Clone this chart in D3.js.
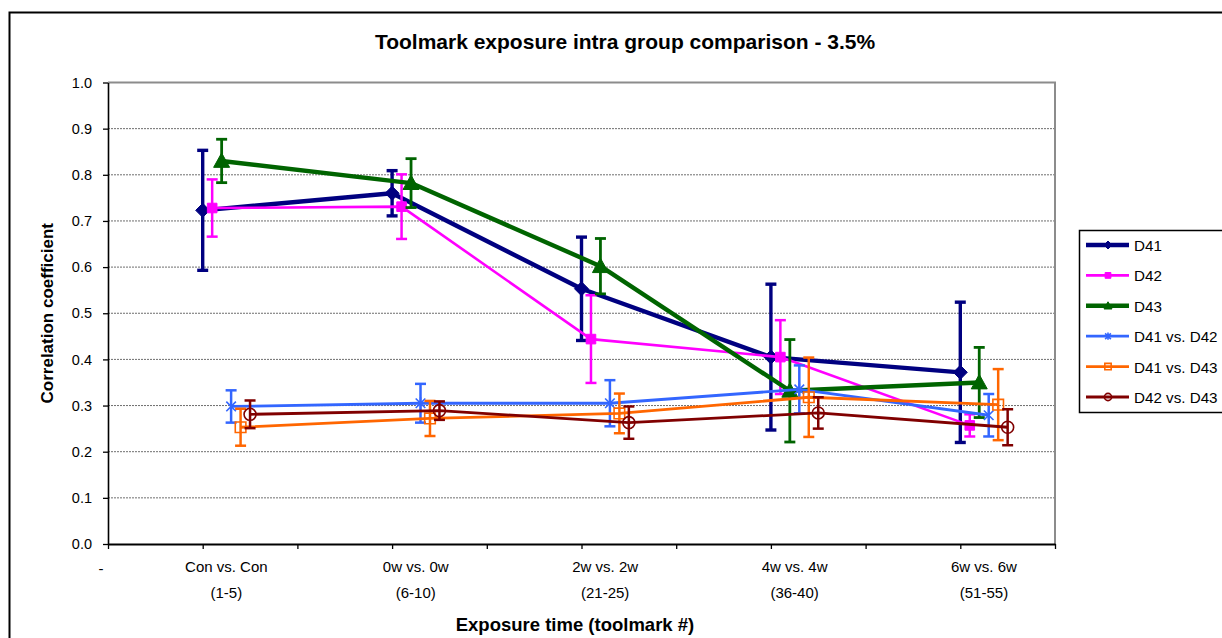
<!DOCTYPE html>
<html>
<head>
<meta charset="utf-8">
<script src="https://cdn.jsdelivr.net/npm/d3@7"></script>
<style>
  body { margin: 0; background: #fff; }
  svg { display: block; font-family: Arial, "Liberation Sans", sans-serif; }
</style>
</head>
<body>
<svg id="chart" width="1222" height="638"></svg>
<script>
// ---- data ----
const groupNames  = ["Con vs. Con", "0w vs. 0w", "2w vs. 2w", "4w vs. 4w", "6w vs. 6w"];
const groupRanges = ["(1-5)", "(6-10)", "(21-25)", "(36-40)", "(51-55)"];
const groupSlots  = [1, 3, 5, 7, 9];          // slot of each exposure group on the x axis
const slotTicks   = [0, 1, 2, 3, 4, 5, 6, 7, 8, 9, 10];
const yTicks      = [0, 0.1, 0.2, 0.3, 0.4, 0.5, 0.6, 0.7, 0.8, 0.9, 1.0];

const seriesNames = ["D41", "D42", "D43", "D41 vs. D42", "D41 vs. D43", "D42 vs. D43"];

const d41       = [0.723, 0.760, 0.553, 0.405, 0.372];
const d41Err    = [0.130, 0.049, 0.112, 0.158, 0.152];
const d42       = [0.728, 0.731, 0.444, 0.405, 0.257];
const d42Err    = [0.062, 0.070, 0.095, 0.080, 0.024];
const d43       = [0.830, 0.782, 0.602, 0.332, 0.350];
const d43Err    = [0.047, 0.053, 0.060, 0.111, 0.076];
const d41v42    = [0.298, 0.305, 0.305, 0.335, 0.279];
const d41v42Err = [0.035, 0.042, 0.050, 0.052, 0.046];
const d41v43    = [0.253, 0.272, 0.283, 0.318, 0.302];
const d41v43Err = [0.040, 0.038, 0.043, 0.086, 0.077];
const d42v43    = [0.281, 0.289, 0.263, 0.284, 0.253];
const d42v43Err = [0.030, 0.020, 0.035, 0.034, 0.039];

const seriesValues = [d41, d42, d43, d41v42, d41v43, d42v43];
const seriesErrors = [d41Err, d42Err, d43Err, d41v42Err, d41v43Err, d42v43Err];

// ---- styles ----
const seriesStyle = [
  { color: "#000080", width: 4.4, errWidth: 3.4, marker: "diamond",  size: 7,   fill: true },
  { color: "#FF00FF", width: 2.6, errWidth: 2.5, marker: "square",   size: 4.8, fill: true },
  { color: "#006400", width: 4.4, errWidth: 2.8, marker: "triangle", size: 8,   fill: true },
  { color: "#3366FF", width: 2.8, errWidth: 2.5, marker: "star",     size: 6,   fill: false },
  { color: "#FF6600", width: 2.8, errWidth: 2.5, marker: "square",   size: 5.3, fill: false },
  { color: "#800000", width: 2.8, errWidth: 2.5, marker: "circle",   size: 6,   fill: false }
];
const slotShift = 0.1;      // each series sits a little to the right of the previous one

const svg = d3.select("#chart");

const plot = { left: 108, right: 1055, top: 82.5, bottom: 544 };
const x = d3.scaleLinear().domain([0, 10]).range([plot.left, plot.right]);
const y = d3.scaleLinear().domain([0, 1]).range([plot.bottom, plot.top]);

// outer chart frame (runs past the right and bottom edges)
svg.append("rect")
  .attr("x", 9.5).attr("y", 12.5).attr("width", 1400).attr("height", 800)
  .attr("fill", "none").attr("stroke", "#000").attr("stroke-width", 2);

// title
svg.append("text")
  .attr("x", 625).attr("y", 49)
  .attr("text-anchor", "middle")
  .attr("font-weight", "bold").attr("font-size", 21)
  .text("Toolmark exposure intra group comparison - 3.5%");

// horizontal gridlines
svg.append("g").selectAll("line")
  .data(yTicks.filter(t => t > 0 && t < 1))
  .join("line")
  .attr("x1", plot.left).attr("x2", plot.right)
  .attr("y1", d => y(d)).attr("y2", d => y(d))
  .attr("stroke", "#6e6e6e").attr("stroke-width", 1)
  .attr("stroke-dasharray", "2,1");

// plot area border (top and right)
svg.append("path")
  .attr("d", `M${plot.left},${y(1)}H${plot.right}V${plot.bottom}`)
  .attr("fill", "none").attr("stroke", "#8c8c8c").attr("stroke-width", 2);

// y axis
const yAxis = svg.append("g")
  .attr("transform", `translate(${plot.left},0)`)
  .call(d3.axisLeft(y).tickValues(yTicks).tickFormat(d3.format(".1f"))
    .tickSize(5).tickPadding(11).tickSizeOuter(0));
yAxis.select(".domain").attr("stroke", "#000").attr("stroke-width", 1.6);
yAxis.selectAll(".tick line").attr("stroke", "#000").attr("stroke-width", 1.3);
yAxis.selectAll(".tick text").attr("font-size", 14.5).attr("fill", "#000")
  .attr("font-family", "Arial, 'Liberation Sans', sans-serif");

// x axis
const xAxis = svg.append("g")
  .attr("transform", `translate(0,${plot.bottom})`)
  .call(d3.axisBottom(x).tickValues(slotTicks).tickFormat("").tickSize(5).tickSizeOuter(0));
xAxis.select(".domain").attr("stroke", "#000").attr("stroke-width", 2);
xAxis.selectAll(".tick line").attr("stroke", "#000").attr("stroke-width", 1.3);

// zero-slot label
svg.append("text")
  .attr("x", x(0) - 7).attr("y", 574)
  .attr("text-anchor", "middle").attr("font-size", 15)
  .text("-");

// group labels, centred under each cluster of six series
const labelG = svg.append("g").attr("text-anchor", "middle").attr("font-size", 15);
labelG.selectAll("text.grp")
  .data(groupNames)
  .join("text").attr("class", "grp")
  .attr("x", (d, i) => x(groupSlots[i] + slotShift * 2.5))
  .attr("y", 572)
  .text(d => d);
labelG.selectAll("text.rng")
  .data(groupRanges)
  .join("text").attr("class", "rng")
  .attr("x", (d, i) => x(groupSlots[i] + slotShift * 2.5))
  .attr("y", 598)
  .text(d => d);

// axis titles
svg.append("text")
  .attr("x", 575).attr("y", 631)
  .attr("text-anchor", "middle").attr("font-weight", "bold").attr("font-size", 18.5)
  .text("Exposure time (toolmark #)");
svg.append("text")
  .attr("transform", `translate(53,${(plot.top + plot.bottom) / 2}) rotate(-90)`)
  .attr("text-anchor", "middle").attr("font-weight", "bold").attr("font-size", 17)
  .text("Correlation coefficient");

// marker shapes
function markerPath(kind, r) {
  switch (kind) {
    case "diamond":  return `M0,${-r}L${r},0L0,${r}L${-r},0Z`;
    case "square":   return `M${-r},${-r}H${r}V${r}H${-r}Z`;
    case "triangle": return `M0,${-r}L${r},${r * 0.8}L${-r},${r * 0.8}Z`;
    case "star": {
      const k = r * 0.8;
      return `M${-k},${-k}L${k},${k}M${-k},${k}L${k},${-k}M0,${-r}V${r}`;
    }
    case "circle":   return d3.arc()({ innerRadius: 0, outerRadius: r, startAngle: 0, endAngle: 2 * Math.PI });
  }
}

function drawMarker(sel, st, r) {
  sel.attr("d", markerPath(st.marker, r))
    .attr("fill", st.fill ? st.color : "none")
    .attr("stroke", st.color)
    .attr("stroke-width", st.fill ? 1 : 1.6);
}

// series
const line = d3.line();
seriesValues.forEach((vals, s) => {
  const st = seriesStyle[s];
  const errs = seriesErrors[s];
  const pts = vals.map((v, i) => ({
    cx: x(groupSlots[i] + s * slotShift),
    v, e: errs[i]
  }));
  const g = svg.append("g");

  g.append("path")
    .attr("d", line(pts.map(p => [p.cx, y(p.v)])))
    .attr("fill", "none").attr("stroke", st.color)
    .attr("stroke-width", st.width).attr("stroke-linejoin", "round");

  const eb = g.selectAll("g.err").data(pts).join("g").attr("class", "err")
    .attr("stroke", st.color).attr("stroke-width", st.errWidth);
  eb.append("line")
    .attr("x1", p => p.cx).attr("x2", p => p.cx)
    .attr("y1", p => y(p.v + p.e)).attr("y2", p => y(p.v - p.e));
  eb.append("line")
    .attr("x1", p => p.cx - 5.5).attr("x2", p => p.cx + 5.5)
    .attr("y1", p => y(p.v + p.e)).attr("y2", p => y(p.v + p.e));
  eb.append("line")
    .attr("x1", p => p.cx - 5.5).attr("x2", p => p.cx + 5.5)
    .attr("y1", p => y(p.v - p.e)).attr("y2", p => y(p.v - p.e));

  g.selectAll("path.mk").data(pts).join("path").attr("class", "mk")
    .attr("transform", p => `translate(${p.cx},${y(p.v)})`)
    .call(drawMarker, st, st.size);
});

// legend
const legend = svg.append("g");
legend.append("rect")
  .attr("x", 1079.5).attr("y", 230.5).attr("width", 200).attr("height", 182)
  .attr("fill", "#fff").attr("stroke", "#000").attr("stroke-width", 1.5);
const rowH = 30.4;
const items = legend.selectAll("g.item").data(seriesNames).join("g").attr("class", "item")
  .attr("transform", (d, i) => `translate(0,${245 + i * rowH})`);
items.append("line")
  .attr("x1", 1086).attr("x2", 1129)
  .attr("stroke", (d, i) => seriesStyle[i].color)
  .attr("stroke-width", (d, i) => seriesStyle[i].width);
items.append("path")
  .attr("transform", "translate(1108,0)")
  .each(function (d, i) {
    const st = seriesStyle[i];
    d3.select(this).call(drawMarker, st, Math.min(st.size * 0.6, 4));
  });
items.append("text")
  .attr("x", 1134).attr("y", 6)
  .attr("font-size", 15.2)
  .text(d => d);
</script>
</body>
</html>
